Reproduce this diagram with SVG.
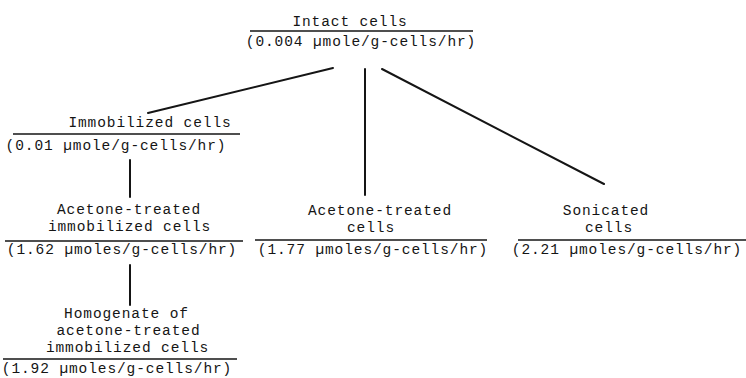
<svg xmlns="http://www.w3.org/2000/svg" width="746" height="378" viewBox="0 0 746 378">
<style>
text{font-family:"Liberation Mono","Courier New",monospace;font-size:14.5px;letter-spacing:0.9px;fill:#151515;text-anchor:middle}
.rule{stroke:#151515;stroke-width:1.4}
.conn{stroke:#151515;stroke-width:2;stroke-linecap:round}
</style>
<rect width="746" height="378" fill="#fff"/>
<g id="connectors">
<line class="conn" x1="148" y1="113" x2="333" y2="68"/>
<line class="conn" x1="365" y1="69" x2="365" y2="195"/>
<line class="conn" x1="382" y1="69" x2="604" y2="184"/>
<line class="conn" x1="130" y1="160" x2="130" y2="197"/>
<line class="conn" x1="130" y1="265" x2="130" y2="305"/>
</g>
<g id="intact">
<text x="350" y="26">Intact cells</text>
<line class="rule" x1="250" y1="31" x2="473" y2="31"/>
<text x="361" y="46">(0.004 µmole/g-cells/hr)</text>
</g>
<g id="immobilized">
<text x="150" y="127">Immobilized cells</text>
<line class="rule" x1="13" y1="134" x2="240" y2="134"/>
<text x="116" y="150">(0.01 µmole/g-cells/hr)</text>
</g>
<g id="acetone-immobilized">
<text x="129" y="214">Acetone-treated</text>
<text x="129.5" y="231">immobilized cells</text>
<line class="rule" x1="5" y1="241" x2="243" y2="241"/>
<text x="122" y="254">(1.62 µmoles/g-cells/hr)</text>
</g>
<g id="homogenate">
<text x="126.5" y="318">Homogenate of</text>
<text x="128.5" y="335">acetone-treated</text>
<text x="127.5" y="352">immobilized cells</text>
<line class="rule" x1="3" y1="359" x2="237" y2="359"/>
<text x="117" y="373">(1.92 µmoles/g-cells/hr)</text>
</g>
<g id="acetone-cells">
<text x="380" y="215">Acetone-treated</text>
<text x="371" y="232">cells</text>
<line class="rule" x1="255" y1="240" x2="487" y2="240"/>
<text x="373" y="254">(1.77 µmoles/g-cells/hr)</text>
</g>
<g id="sonicated">
<text x="606" y="215">Sonicated</text>
<text x="609" y="232">cells</text>
<line class="rule" x1="518" y1="240" x2="746" y2="240"/>
<text x="627" y="254">(2.21 µmoles/g-cells/hr)</text>
</g>
</svg>
